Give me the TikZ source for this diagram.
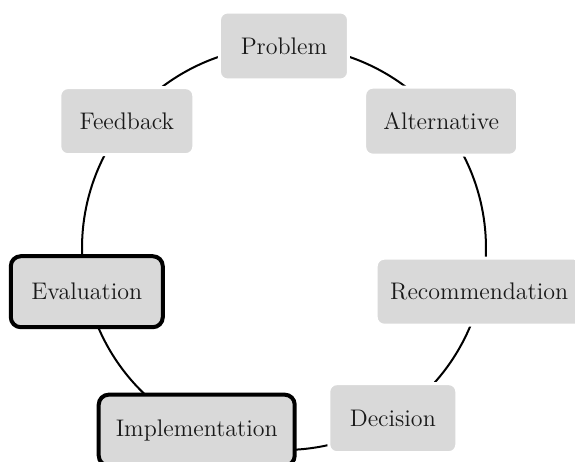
\documentclass[tikz,border=0pt]{standalone}
\usetikzlibrary{backgrounds}
\definecolor{boxgray}{RGB}{217,217,217}
\begin{document}
\begin{tikzpicture}[x=0.5pt,y=0.5pt,
  box/.style={rectangle, rounded corners=4pt, fill=boxgray, draw=white, line width=1.5pt,
    inner sep=0pt, font=\fontsize{12}{14}\selectfont, text=black!90},
  keybox/.style={box, draw=black, line width=2pt, rounded corners=5pt},
  link/.style={line width=1pt, draw=black}]
\useasboundingbox (0,0) rectangle (575,462);
\coordinate (C) at (284,214);
\path (C) ++(90:101pt) node[box, minimum width=64.5pt, minimum height=34pt] (P) {Problem};
\path (C) ++(38.9:101pt) node[box, minimum width=76.5pt, minimum height=34pt] (A) {Alternative};
\path (C) ++(-12.5:101pt) node[box, minimum width=103pt, minimum height=33.5pt, xshift=-1pt] (R) {Recommendation};
\path (C) ++(-57.4:101pt) node[box, minimum width=64pt, minimum height=34.5pt] (D) {Decision};
\path (C) ++(-115.6:101pt) node[keybox, minimum width=98pt, minimum height=35.5pt] (I) {Implementation};
\path (C) ++(192.5:101pt) node[keybox, minimum width=76pt, minimum height=35.5pt] (E) {Evaluation};
\path (C) ++(141.1:101pt) node[box, minimum width=67pt, minimum height=33.5pt] (F) {Feedback};
\begin{scope}[on background layer]
\draw[link] (P.center) arc[start angle=90, end angle=38.9, radius=101pt];
\draw[link] (A.center) arc[start angle=38.9, end angle=-12.5, radius=101pt];
\draw[link] (C) ++(-12.5:101pt) arc[start angle=-12.5, end angle=-57.4, radius=101pt];
\draw[link] (D.center) arc[start angle=-57.4, end angle=-115.6, radius=101pt];
\draw[link] (I.center) arc[start angle=-115.6, end angle=-167.5, radius=101pt];
\draw[link] (E.center) arc[start angle=192.5, end angle=141.1, radius=101pt];
\draw[link] (F.center) arc[start angle=141.1, end angle=90, radius=101pt];
\end{scope}
\end{tikzpicture}
\end{document}
